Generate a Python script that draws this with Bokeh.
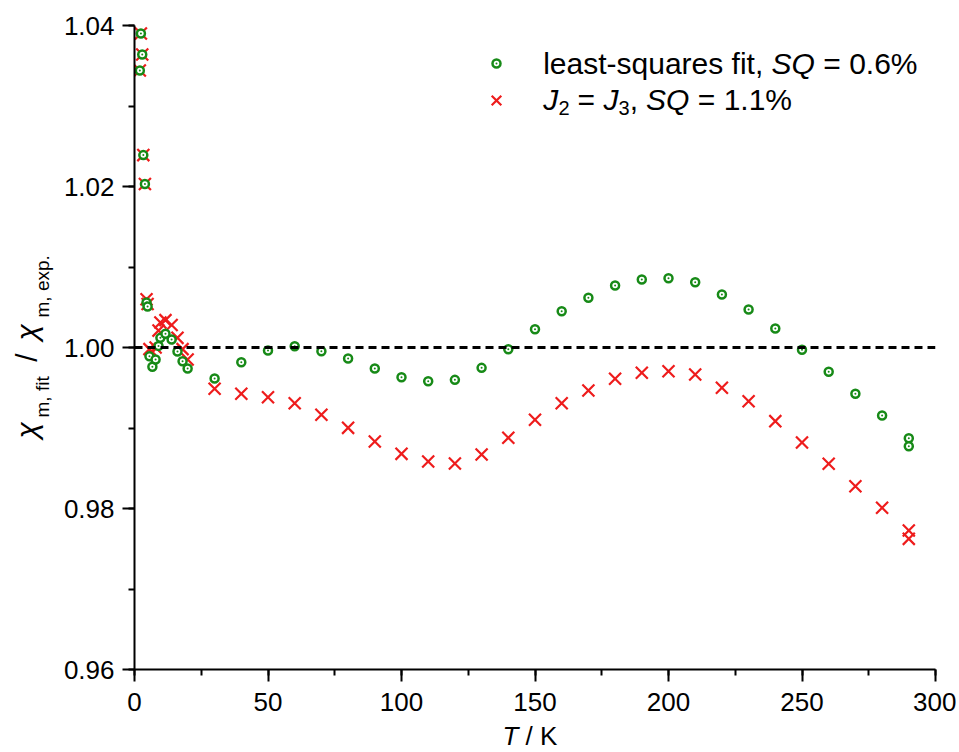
from bokeh.plotting import figure
from bokeh.layouts import row, column
from bokeh.models import (Range1d, SingleIntervalTicker, NumeralTickFormatter, Span,
                          Label, Legend, LegendItem, ColumnDataSource)
from bokeh.embed import file_html
from bokeh.resources import INLINE
import math

# ---------------- data ----------------
temperature = [2.0, 2.4, 2.9, 3.3, 3.9, 4.5, 4.9, 5.6, 6.7, 7.9, 9.0, 9.7, 11.6, 13.9,
               16.1, 18.0, 19.9, 30, 40, 50, 60, 70, 80, 90, 100, 110, 120, 130, 140,
               150, 160, 170, 180, 190, 200, 210, 220, 230, 240, 250, 260, 270, 280,
               290, 290]

ratio_lsq = [1.0344, 1.0390, 1.0364, 1.0239, 1.0203, 1.0056, 1.0051, 0.9989, 0.9976,
             0.9985, 1.0002, 1.0012, 1.0017, 1.0010, 0.9995, 0.9983, 0.9974, 0.99615,
             0.99817, 0.99963, 1.00016, 0.99954, 0.99863, 0.99739, 0.99631, 0.99581,
             0.99598, 0.99747, 0.99979, 1.00227, 1.00451, 1.00617, 1.00770, 1.00845,
             1.00861, 1.00811, 1.00658, 1.00472, 1.00236, 0.99971, 0.99698, 0.99425,
             0.99155, 0.98873, 0.98774]

ratio_j2j3 = [1.0344, 1.0390, 1.0364, 1.0239, 1.0203, 1.0060, 1.0054, 0.9998, 0.9994,
              1.0000, 1.0021, 1.0031, 1.0034, 1.0028, 1.0012, 0.9998, 0.9985, 0.99487,
              0.99425, 0.99383, 0.99308, 0.99164, 0.99002, 0.98832, 0.98679, 0.98584,
              0.98559, 0.98671, 0.98878, 0.99102, 0.99308, 0.99466, 0.99611, 0.99686,
              0.99706, 0.99664, 0.99499, 0.99333, 0.99085, 0.98820, 0.98555, 0.98277,
              0.98009, 0.97727, 0.97623]

reference_level = 1.0
x_limits = (0, 300)
y_limits = (0.96, 1.04)
x_tick_step = 50
y_tick_step = 0.02

FONT = "Liberation Sans"
GREEN = "#178a17"
RED = "#ee1c1c"

# page layout (pixels)
LEFT_STRIP = 60          # width of the strip carrying the y title
FL, FT, FW, FH = 133, 25, 801, 644   # frame left/top/width/height on the page
FB = FT + FH
MAIN_BOTTOM = 52
MAIN_H = FT + FH + MAIN_BOTTOM
TOTAL_W, TOTAL_H = 955, 751
BASE_SHIFT = 0.3465      # label anchor (text-box centre) -> baseline, fraction of font size

p = figure(frame_width=FW, frame_height=FH,
           min_border_left=FL - LEFT_STRIP, min_border_right=TOTAL_W - FL - FW,
           min_border_top=FT, min_border_bottom=MAIN_BOTTOM,
           x_range=Range1d(*x_limits), y_range=Range1d(*y_limits),
           output_backend="svg", toolbar_location=None)
p.outline_line_color = None
p.xgrid.visible = False
p.ygrid.visible = False
p.background_fill_color = "white"
p.border_fill_color = "white"

p.xaxis.ticker = SingleIntervalTicker(interval=x_tick_step, num_minor_ticks=2)
p.yaxis.ticker = SingleIntervalTicker(interval=y_tick_step, num_minor_ticks=2)
p.yaxis.formatter = NumeralTickFormatter(format="0.00")

for ax in (p.xaxis[0], p.yaxis[0]):
    ax.axis_line_width = 2
    ax.axis_line_color = "black"
    ax.major_tick_line_width = 2
    ax.minor_tick_line_width = 2
    ax.major_tick_in = 0
    ax.major_tick_out = 12
    ax.minor_tick_in = 0
    ax.minor_tick_out = 6
    ax.major_label_text_font = FONT
    ax.major_label_text_font_size = "26px"
    ax.major_label_text_color = "black"
p.yaxis.major_label_standoff = 8
p.xaxis.major_label_standoff = 11

p.add_layout(Span(location=reference_level, dimension="width", line_color="black",
                  line_width=3, line_dash="8 5"))

src = ColumnDataSource(dict(t=temperature, lsq=ratio_lsq, eq=ratio_j2j3))
r_red = p.scatter("t", "eq", source=src, marker="x", size=17, line_color=RED, line_width=2.2)
r_green = p.scatter("t", "lsq", source=src, marker="circle_dot", size=8, fill_color="white",
                    line_color=GREEN, line_width=2.5)


def add_legend(renderer, cx, cy, box):
    leg = Legend(items=[LegendItem(label=" ", renderers=[renderer])],
                 location=(cx - box / 2 - FL, FB - (cy + box / 2)),
                 glyph_width=box, glyph_height=box, spacing=0,
                 padding=0, margin=0, label_standoff=0, label_width=0, label_height=0,
                 label_text_font_size="1px", border_line_color=None,
                 background_fill_alpha=0)
    p.add_layout(leg)


add_legend(r_green, 495, 63, 20)
add_legend(r_red, 495, 100, 34)


def make_label(fig, sx, sy, text, size, italic, angle, align):
    fig.add_layout(Label(x=sx, y=sy, x_units="screen", y_units="screen",
                         text=text, text_font=FONT, text_font_size=f"{size}px",
                         text_font_style="italic" if italic else "normal",
                         text_color="black", angle=angle, text_align=align,
                         text_baseline="alphabetic"))


def put(px, py, text, size, italic=False, align="left"):
    # text inside the main frame; py = wanted baseline on the page
    make_label(p, px - FL, FB - (py - BASE_SHIFT * size), text, size, italic, 0.0, align)


# legend texts
put(541.7, 73, "least-squares fit,", 30)
put(770.1, 73, "SQ", 30, italic=True)
put(821.8, 73, "= 0.6%", 30)

put(541.7, 109.5, "J", 30, italic=True)
put(556.9, 114, "2", 20)
put(576.1, 109.5, "=", 30)
put(601.9, 109.5, "J", 30, italic=True)
put(617.1, 114, "3", 20)
put(628.2, 109.5, ",", 30)
put(644.6, 109.5, "SQ", 30, italic=True)
put(696.3, 109.5, "= 1.1%", 30)


def strip(w, h):
    f = figure(width=w, height=h, min_border=0, x_range=Range1d(0, 1), y_range=Range1d(0, 1),
               x_axis_location=None, y_axis_location=None, title=None,
               output_backend="svg", toolbar_location=None)
    f.outline_line_color = None
    f.grid.visible = False
    f.background_fill_color = "white"
    f.border_fill_color = "white"
    return f


# left strip: y title (rotated). Its frame is aligned with the main frame
# (frame bottom at page y = FB, frame left at page x = 0).
fy = strip(LEFT_STRIP, MAIN_H)
up = math.pi / 2


def put_y(bx, py, text, size, italic=False, align="left"):
    # bx = wanted baseline x on the page, py = start of text (page y)
    make_label(fy, bx - BASE_SHIFT * size, FB - py, text, size, italic, up, align)


put_y(36.5, 438, "χ", 30, italic=True)
put_y(48.4, 417, "m, fit", 19)
put_y(36.5, 357, "/", 30, align="center")
put_y(36.5, 340, "χ", 30, italic=True)
put_y(48.4, 317, "m, exp.", 19)

# bottom strip: x title (frame spans page y MAIN_H .. TOTAL_H)
fx = strip(TOTAL_W, TOTAL_H - MAIN_H)


def put_x(px, py, text, size, italic=False):
    make_label(fx, px, TOTAL_H - (py - BASE_SHIFT * size), text, size, italic, 0.0, "left")


put_x(502, 745, "T", 26, italic=True)
put_x(525, 745, "/ K", 26)

layout = column(row(fy, p), fx)
open("out.html", "w").write(file_html(layout, INLINE))
